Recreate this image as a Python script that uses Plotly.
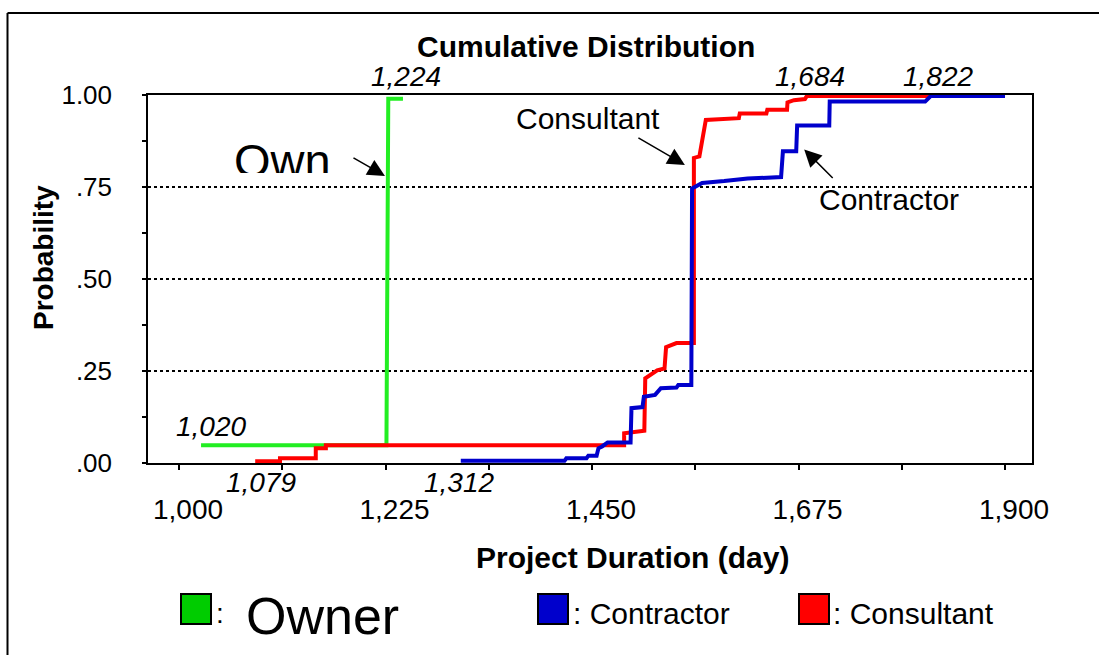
import plotly.graph_objects as go

# ---------------- data ----------------
series_names = ["Owner", "Contractor", "Consultant"]

owner_x = [1024, 1226, 1228, 1244]
owner_y = [0.048, 0.048, 0.99, 0.99]

consultant_x = [1083, 1110, 1110, 1149, 1149, 1160, 1160, 1485, 1485, 1507, 1508,
                1514, 1521, 1529, 1530.7, 1542, 1561, 1561, 1567, 1574, 1610, 1611,
                1640, 1641, 1662.5, 1663, 1670, 1682, 1684, 1819]
consultant_y = [0.005, 0.005, 0.013, 0.013, 0.040, 0.040, 0.048, 0.048, 0.081, 0.088, 0.230,
                0.239, 0.252, 0.257, 0.315, 0.326, 0.326, 0.829, 0.833, 0.932, 0.937, 0.950,
                0.950, 0.960, 0.960, 0.980, 0.986, 0.989, 0.997, 0.997]

contractor_x = [1307, 1420, 1422, 1444, 1446, 1455, 1457, 1461, 1467, 1492, 1493, 1505,
                1506.5, 1518.7, 1525, 1542, 1544, 1558.2, 1559, 1570, 1594, 1619.6, 1656,
                1658, 1672.5, 1673.5, 1708.5, 1709, 1813, 1819, 1900]
contractor_y = [0.006, 0.006, 0.013, 0.013, 0.020, 0.020, 0.040, 0.045, 0.056, 0.056, 0.149, 0.152,
                0.180, 0.185, 0.203, 0.205, 0.212, 0.212, 0.746, 0.761, 0.766, 0.773, 0.777,
                0.847, 0.847, 0.917, 0.917, 0.982, 0.982, 0.997, 0.997]

x_tick_vals = [1000, 1112.5, 1225, 1337.5, 1450, 1562.5, 1675, 1787.5, 1900]
x_tick_text = ["1,000", "", "1,225", "", "1,450", "", "1,675", "", "1,900"]
y_tick_vals = [0, 0.25, 0.5, 0.75, 1.0]
y_tick_text = [".00", ".25", ".50", ".75", "1.00"]
y_minor_vals = [0.125, 0.375, 0.625, 0.875]

owner_min_label, owner_max_label = "1,020", "1,224"
consultant_min_label, consultant_max_label = "1,079", "1,684"
contractor_min_label, contractor_max_label = "1,312", "1,822"

# ---------------- geometry helpers ----------------
W, H = 1099, 655
L, R, T, B = 148, 1032, 95, 463
FONT = "Liberation Sans, Arial, sans-serif"


def fx(p):
    return (p - L) / (R - L)


def fy(p):
    return (B - p) / (B - T)


GREEN, BLUE, RED = "#22ee22", "#0000cc", "#ff0000"

fig = go.Figure()
fig.add_trace(go.Scatter(x=owner_x, y=owner_y, mode="lines", name=series_names[0],
                         line=dict(color=GREEN, width=4), showlegend=False))
fig.add_trace(go.Scatter(x=consultant_x, y=consultant_y, mode="lines", name=series_names[2],
                         line=dict(color=RED, width=4), showlegend=False))
fig.add_trace(go.Scatter(x=contractor_x, y=contractor_y, mode="lines", name=series_names[1],
                         line=dict(color=BLUE, width=4), showlegend=False))

ann = []


def text(xp, yp, s, size, bold=False, italic=False, xanchor="center", yanchor="middle", **kw):
    ann.append(dict(xref="paper", yref="paper", x=fx(xp), y=fy(yp), text=(f"<b>{s}</b>" if bold else s),
                    showarrow=False, xanchor=xanchor, yanchor=yanchor,
                    font=dict(family=FONT, size=size, color="black",
                              style=("italic" if italic else "normal")), **kw))


text(586, 46, "Cumulative Distribution", 30, bold=True)
text(632, 557, "Project Duration (day)", 30, bold=True)
ann.append(dict(xref="paper", yref="paper", x=fx(43), y=fy(258), text="<b>Probability</b>",
                textangle=-90, showarrow=False, xanchor="center", yanchor="middle",
                font=dict(family=FONT, size=28, color="black")))

# min / max value labels
text(211, 426, owner_min_label, 28, italic=True)
text(406, 76, owner_max_label, 28, italic=True)
text(261, 482, consultant_min_label, 28, italic=True)
text(810, 77, consultant_max_label, 28, italic=True)
text(459, 482, contractor_min_label, 28, italic=True)
text(938, 77, contractor_max_label, 28, italic=True)

# in-plot labels
text(588, 118, "Consultant", 30)
text(889, 199, "Contractor", 30)
ann.append(dict(xref="paper", yref="paper", x=fx(282), y=fy(133), text="Own", showarrow=False,
                xanchor="center", yanchor="top", valign="top", height=39, borderpad=0,
                font=dict(family=FONT, size=47, color="black")))

# arrows
for (tx, ty, ax, ay) in [(1224.4, 0.780, -33, -19), (1551.2, 0.810, -48, -28), (1681.2, 0.852, 30, 30)]:
    ann.append(dict(xref="x", yref="y", x=tx, y=ty, ax=ax, ay=ay, text="", showarrow=True,
                    arrowhead=2, arrowsize=2.3, arrowwidth=1.5, arrowcolor="black", standoff=0))

# custom legend
shapes = []
for (x0, col) in [(181, "#00cc00"), (538, BLUE), (799, RED)]:
    shapes.append(dict(type="rect", xref="paper", yref="paper", x0=fx(x0), x1=fx(x0 + 30),
                       y0=fy(624), y1=fy(594), fillcolor=col, line=dict(color="black", width=2)))
text(214, 613, ":", 28, xanchor="left")
text(244, 616, series_names[0], 52, xanchor="left")
text(571, 613, ": " + series_names[1], 30, xanchor="left")
text(831, 613, ": " + series_names[2], 30, xanchor="left")

# outer border of the picture
shapes.append(dict(type="line", xref="paper", yref="paper", x0=fx(7.5), x1=fx(7.5), y0=fy(13), y1=fy(655),
                   line=dict(color="black", width=2)))
shapes.append(dict(type="line", xref="paper", yref="paper", x0=fx(7.5), x1=fx(1099), y0=fy(13), y1=fy(13),
                   line=dict(color="black", width=2)))

fig.update_layout(
    width=W, height=H, autosize=False,
    margin=dict(l=L, r=W - R, t=T, b=H - B, pad=0),
    paper_bgcolor="white", plot_bgcolor="white",
    font=dict(family=FONT, color="black"),
    annotations=ann, shapes=shapes, showlegend=False,
    xaxis=dict(range=[966.2, 1929.4], tickvals=x_tick_vals, ticktext=x_tick_text,
               ticks="outside", ticklen=5, tickwidth=1.5, tickcolor="black",
               showline=True, mirror=True, linecolor="black", linewidth=1.5,
               showgrid=False, zeroline=False, ticklabelshift=9, ticklabelstandoff=16,
               tickfont=dict(family=FONT, size=28, color="black")),
    yaxis=dict(range=[0, 1], tickvals=y_tick_vals, ticktext=y_tick_text,
               ticks="outside", ticklen=4, tickwidth=1.5, tickcolor="black",
               showline=True, mirror=True, linecolor="black", linewidth=1.5,
               showgrid=True, gridcolor="black", griddash="dot", gridwidth=2, zeroline=False,
               ticklabelstandoff=25,
               minor=dict(tickvals=y_minor_vals, ticks="outside", ticklen=4, tickcolor="black",
                          tickwidth=1.5, showgrid=False),
               tickfont=dict(family=FONT, size=26, color="black")),
)

fig.write_html("out.html", config={"displayModeBar": False},
               post_script="document.body.style.margin='0px';")
